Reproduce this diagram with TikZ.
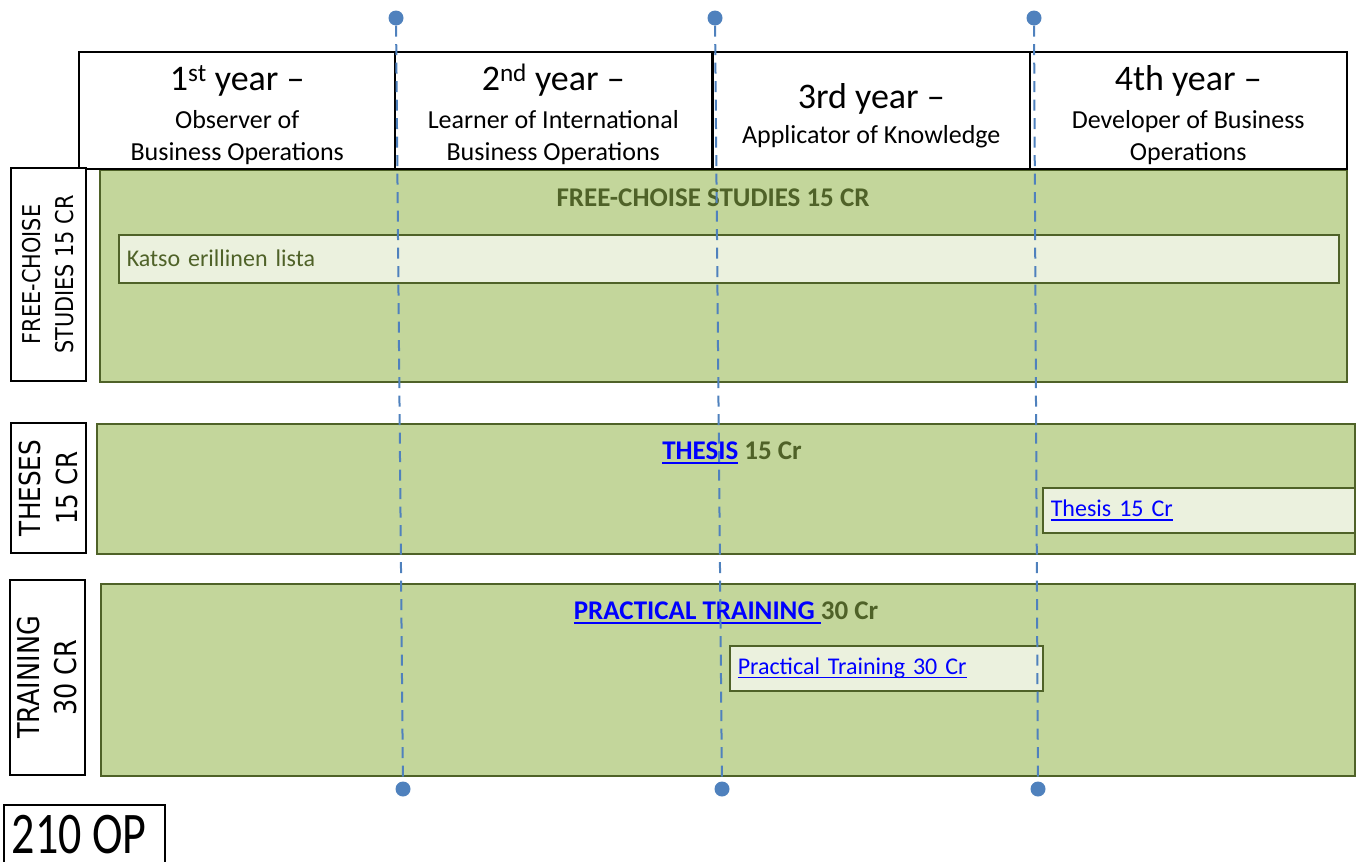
\documentclass[tikz,border=0pt]{standalone}
\usepackage{fontspec}
\usepackage{tikz}
\usepackage{xcolor}
\setmainfont{Carlito}
\newfontfamily\sidefont{DejaVu Sans}[FakeStretch=0.85]
\newfontfamily\opfont{Carlito}[FakeStretch=0.78]
\definecolor{bandgreen}{HTML}{C3D69B}
\definecolor{darkolive}{HTML}{4F6228}
\definecolor{paleolive}{HTML}{EBF1DE}
\definecolor{lineblue}{HTML}{4F81BD}
\definecolor{linkblue}{HTML}{0000FF}
\newsavebox\lnkbox
\newcommand\linkul[1]{\sbox\lnkbox{#1}\rlap{\rule[-0.16em]{\wd\lnkbox}{0.075em}}\usebox\lnkbox}
\newcommand\yearhead[1]{{\fontsize{36}{36}\selectfont\rule{0pt}{35pt}#1}}

\begin{document}
\begin{tikzpicture}[x=1pt, y=-1pt,
  yearbox/.style={draw=black, line width=1.5pt, fill=white, anchor=north west, minimum width=317pt, minimum height=117pt, align=center, inner sep=0pt, font=\fontsize{26}{32}\selectfont},
  sidebox/.style={draw=black, line width=1.5pt, fill=white, rotate=90, align=center, inner sep=0pt, minimum height=75pt},
  band/.style={draw=darkolive, line width=1.5pt, fill=bandgreen, anchor=north west, inner sep=0pt},
  course/.style={draw=darkolive, line width=1.5pt, fill=paleolive, anchor=north west, inner xsep=8pt, inner ysep=0pt, minimum height=45pt, align=left, font=\fontsize{24}{28}\selectfont},
  bandtitle/.style={text=darkolive, font=\bfseries\fontsize{27}{30}\selectfont},
  dot/.style={circle, fill=lineblue, inner sep=0pt, minimum size=15pt},
  yearline/.style={draw=lineblue, line width=2pt, dash pattern=on 11pt off 7.5pt}
]
\useasboundingbox (0,0) rectangle (1358,862);

\node[band, minimum width=1247pt, minimum height=212pt] (freeband) at (99,169) {};
\node[band, minimum width=1258pt, minimum height=130pt] (thesisband) at (96,423) {};
\node[band, minimum width=1254pt, minimum height=192pt] (trainband) at (100,583) {};

\node[bandtitle] (freetitle) at (713,198) {FREE-CHOISE STUDIES 15 CR};
\node[bandtitle] (thesistitle) at (732,453) {\textcolor{linkblue}{\linkul{THESIS}} 15 Cr};
\node[bandtitle] (traintitle) at (726,613) {\textcolor{linkblue}{\linkul{PRACTICAL TRAINING }}30 Cr};

\node[course, text width=1204pt, minimum height=48pt, text=darkolive] (katso) at (118,234) {Katso erillinen lista};
\node[course, text width=296pt, text=linkblue] (thesiscourse) at (1042,487) {\linkul{Thesis 15 Cr}};
\node[course, text width=297pt, text=linkblue] (traincourse) at (729,645) {\linkul{Practical Training 30 Cr}};

\node[yearbox] (year1) at (78,51) {\yearhead{1\textsuperscript{st} year –}\\[6pt]Observer of\\Business Operations};
\node[yearbox] (year2) at (394,51) {\yearhead{2\textsuperscript{nd} year –}\\[6pt]Learner of International\\Business Operations};
\node[yearbox] (year3) at (712,51) {\yearhead{3rd year –}\\[3pt]Applicator of Knowledge};
\node[yearbox] (year4) at (1029,51) {\yearhead{4th year –}\\[6pt]Developer of Business\\Operations};

\node[sidebox, minimum width=213pt, font=\sidefont\fontsize{24.5}{33}\selectfont] (freeside) at (48.5,274.5) {FREE-CHOISE\\STUDIES 15 CR};
\node[sidebox, minimum width=130pt, font=\sidefont\fontsize{29}{37}\selectfont] (thesisside) at (48.5,488) {THESES\\15 CR};
\node[sidebox, minimum width=195pt, font=\sidefont\fontsize{30}{37}\selectfont] (trainside) at (47.5,677.5) {TRAINING\\30 CR};

\node[inner sep=0pt, font=\opfont\fontsize{59}{59}\selectfont] (total) at (79,835) {210 OP};
\coordinate (totalsw) at (4,862);
\coordinate (totalne) at (165,805);
\draw[line width=1.5pt] (totalsw) |- (totalne) -- (totalne |- totalsw);

\node[dot] (top1) at (396,18) {};
\node[dot] (top2) at (715,18) {};
\node[dot] (top3) at (1034,18) {};
\node[dot] (bot1) at (403,789) {};
\node[dot] (bot2) at (722,789) {};
\node[dot] (bot3) at (1038,789) {};
\foreach \i in {1,2,3}
  \draw[yearline] (top\i) -- (bot\i);
\end{tikzpicture}
\end{document}
